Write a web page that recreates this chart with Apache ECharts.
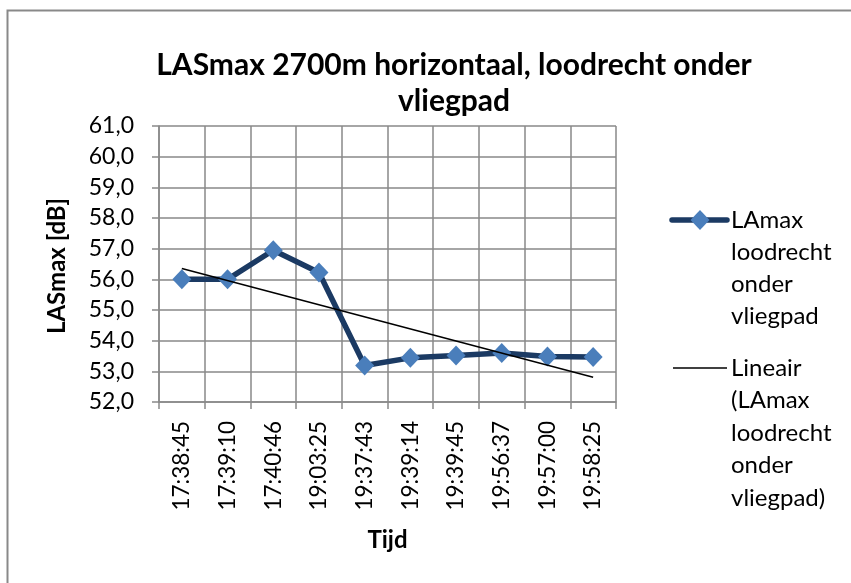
<!DOCTYPE html>
<html>
<head>
<meta charset="utf-8">
<script src="https://cdn.jsdelivr.net/npm/echarts@6/dist/echarts.min.js"></script>
<style>
  html, body { margin: 0; padding: 0; background: #fff; }
  #chart { width: 851px; height: 583px; }
</style>
</head>
<body>
<div id="chart"></div>
<script>
// tijdstippen (x-as)
const tijden = ["17:38:45", "17:39:10", "17:40:46", "19:03:25", "19:37:43",
  "19:39:14", "19:39:45", "19:56:37", "19:57:00", "19:58:25"];
// LAmax loodrecht onder vliegpad
const laMax = [56.0, 56.0, 56.95, 56.22, 53.19, 53.44, 53.52, 53.6, 53.48, 53.47];
const trendLijn = [56.35, null, null, null, null, null, null, null, null, 52.81];
// y-as
const yMin = 52;
const yMax = 61;
const yStap = 1;

const font = "Lato";
const grijs = "#898989";

const chart = echarts.init(document.getElementById("chart"));

const option = {
  animation: false,
  backgroundColor: "#fff",
  textStyle: { fontFamily: font, color: "#000" },
  title: {
    text: "LASmax 2700m horizontaal, loodrecht onder\nvliegpad",
    left: 449,
    top: 42,
    padding: 5,
    textAlign: "center",
    textStyle: {
      fontFamily: font,
      fontWeight: "bold",
      fontSize: 30,
      lineHeight: 36,
      color: "#000",
    },
  },
  grid: { left: 159, right: 235, top: 126, bottom: 181 },
  xAxis: {
    type: "category",
    data: tijden,
    boundaryGap: true,
    name: "Tijd",
    nameLocation: "middle",
    nameGap: 126,
    nameTextStyle: { fontFamily: font, fontWeight: "bold", fontSize: 24, color: "#000" },
    axisLine: { lineStyle: { color: grijs, width: 1.5 } },
    axisTick: { show: true, length: 7, lineStyle: { color: grijs, width: 1.5 } },
    splitLine: { show: true, lineStyle: { color: grijs, width: 1.5 } },
    axisLabel: {
      rotate: 90,
      margin: 19,
      interval: 0,
      fontFamily: font,
      fontSize: 22.5,
      color: "#000",
    },
  },
  yAxis: {
    type: "value",
    min: yMin,
    max: yMax,
    interval: yStap,
    axisLine: { show: true, lineStyle: { color: grijs, width: 1.5 } },
    axisTick: { show: true, length: 7, lineStyle: { color: grijs, width: 1.5 } },
    splitLine: { show: true, lineStyle: { color: grijs, width: 1.5 } },
    axisLabel: {
      margin: 25,
      fontFamily: font,
      fontSize: 23,
      color: "#000",
      formatter: (v) => v.toFixed(1).replace(".", ","),
    },
  },
  series: [
    {
      name: "LAmax loodrecht onder vliegpad",
      type: "line",
      data: laMax,
      symbol: "diamond",
      symbolSize: [19, 20],
      lineStyle: { color: "#1B3A63", width: 5.5 },
      itemStyle: { color: "#4A7EBB" },
      z: 2,
    },
    {
      name: "Lineair (LAmax loodrecht onder vliegpad)",
      type: "line",
      data: trendLijn,
      connectNulls: true,
      symbol: "none",
      lineStyle: { color: "#000", width: 1.5 },
      z: 3,
    },
  ],
  graphic: [
    // rand om de grafiek (rechts en onder buiten beeld)
    {
      type: "rect",
      shape: { x: 7.5, y: 10.5, width: 900, height: 700 },
      style: { fill: null, stroke: grijs, lineWidth: 2 },
      silent: true,
    },
    // y-as titel
    {
      type: "text",
      x: 57,
      y: 266,
      rotation: Math.PI / 2,
      style: {
        text: "LASmax [dB]",
        fontFamily: font,
        fontWeight: "bold",
        fontSize: 24,
        align: "center",
        verticalAlign: "middle",
        fill: "#000",
      },
    },
    // legenda item 1
    {
      type: "line",
      shape: { x1: 672, y1: 220, x2: 727, y2: 220 },
      style: { stroke: "#1B3A63", lineWidth: 5.5, lineCap: "round" },
    },
    {
      type: "polygon",
      shape: { points: [[700, 210], [709.5, 220], [700, 230], [690.5, 220]] },
      style: { fill: "#4A7EBB" },
    },
    {
      type: "text",
      left: 731,
      top: 204,
      style: {
        text: "LAmax\nloodrecht\nonder\nvliegpad",
        fontFamily: font,
        fontSize: 24,
        lineHeight: 32,
        fill: "#000",
      },
    },
    // legenda item 2
    {
      type: "line",
      shape: { x1: 673, y1: 368, x2: 727, y2: 368 },
      style: { stroke: "#000", lineWidth: 1.5 },
    },
    {
      type: "text",
      left: 731,
      top: 352,
      style: {
        text: "Lineair\n(LAmax\nloodrecht\nonder\nvliegpad)",
        fontFamily: font,
        fontSize: 24,
        lineHeight: 32.5,
        fill: "#000",
      },
    },
  ],
};

chart.setOption(option);
</script>
</body>
</html>
